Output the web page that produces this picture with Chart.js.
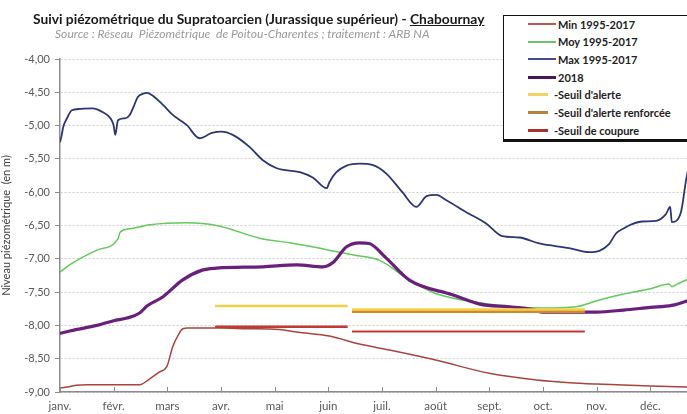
<!DOCTYPE html>
<html lang="fr">
<head>
<meta charset="utf-8">
<title>Suivi piézométrique - Chabournay</title>
<script src="https://cdn.jsdelivr.net/npm/chart.js@4/dist/chart.umd.min.js"></script>
<style>
  html, body { margin: 0; padding: 0; background: #fff; overflow: hidden; width: 687px; height: 414px; }
  body { position: relative; font-family: Lato, "Open Sans", sans-serif; }
  #wrap { position: absolute; left: 0; top: 0; width: 720px; height: 414px; }
  #title { position: absolute; left: 33px; top: 10px; font-size: 13.8px; font-weight: 700; color: #1a1a1a; white-space: nowrap; }
  #sub { position: absolute; left: 55px; top: 26px; font-size: 12.1px; font-style: italic; color: #9a9a9a; white-space: pre; }
  #legend { position: absolute; left: 503px; top: 15px; width: 200px; height: 127px; background: #fff;
            border: 1px solid #111; border-bottom: 3px solid #111; box-sizing: border-box; }
  .lg-row { position: absolute; left: 0; height: 16px; display: flex; align-items: center; font-size: 11px; font-weight: 700; color: #222; white-space: nowrap; }
  .lg-line { display: inline-block; margin-left: 24px; margin-right: 2px; }
</style>
</head>
<body>
<div id="wrap"><canvas id="cv" width="720" height="414"></canvas></div>
<div id="title">Suivi piézométrique du Supratoarcien (Jurassique supérieur) - <u>Chabournay</u></div>
<div id="sub">Source : Réseau  Piézométrique  de Poitou-Charentes ; traitement : ARB NA</div>
<div id="legend"></div>

<script>
// mois (axe x en mois, 0 = 1er janvier)
const MONTHS = ['janv.', 'févr.', 'mars', 'avr.', 'mai', 'juin', 'juil.', 'août', 'sept.', 'oct.', 'nov.', 'déc.'];
const Y_TICKS = [-9, -8.5, -8, -7.5, -7, -6.5, -6, -5.5, -5, -4.5, -4];

// Min 1995-2017
const minX = [0, 0.1, 0.3, 0.5, 1.0, 1.49, 1.64, 1.85, 1.99, 2.1, 2.2, 2.29, 2.38, 3.0, 3.5, 4.09, 4.41, 5.02, 5.58, 6.14, 7.0, 8.0, 8.88, 9.5, 10.0, 11.0, 12.0];
const minY = [-8.94, -8.93, -8.9, -8.89, -8.89, -8.89, -8.82, -8.7, -8.62, -8.32, -8.15, -8.05, -8.04, -8.04, -8.05, -8.06, -8.1, -8.16, -8.28, -8.37, -8.52, -8.72, -8.82, -8.86, -8.88, -8.91, -8.93];

// Moy 1995-2017
const moyX = [0, 0.2, 0.69, 1.08, 1.12, 1.3, 1.68, 2.36, 2.92, 3.72, 4.28, 5.02, 5.45, 5.95, 6.51, 7.0, 7.82, 8.43, 9.0, 9.62, 10.0, 10.5, 11.0, 11.35, 11.4, 11.5, 11.8];
const moyY = [-7.2, -7.08, -6.87, -6.7, -6.6, -6.55, -6.49, -6.46, -6.5, -6.69, -6.76, -6.87, -6.94, -7.02, -7.32, -7.52, -7.66, -7.72, -7.74, -7.72, -7.63, -7.53, -7.45, -7.38, -7.42, -7.38, -7.27];

// Max 1995-2017
const maxX = [0, 0.03, 0.06, 0.13, 0.22, 0.37, 0.61, 0.8, 0.95, 1.0, 1.03, 1.08, 1.21, 1.3, 1.38, 1.45, 1.55, 1.62, 1.71, 1.92, 2.1, 2.36, 2.6, 2.83, 3.01, 3.22, 3.53, 3.78, 4.04, 4.47, 4.71, 4.97, 5.02, 5.15, 5.34, 5.58, 5.82, 6.08, 6.38, 6.64, 6.83, 7.01, 7.2, 7.57, 7.94, 8.24, 8.56, 8.93, 9.49, 9.86, 10.05, 10.23, 10.36, 10.51, 10.66, 10.85, 11.11, 11.29, 11.37, 11.4, 11.57, 11.67, 11.75];
const maxY = [-5.25, -5.15, -5.02, -4.89, -4.77, -4.75, -4.74, -4.8, -4.9, -5.0, -5.14, -4.92, -4.89, -4.84, -4.7, -4.57, -4.52, -4.51, -4.54, -4.69, -4.84, -4.99, -5.19, -5.11, -5.09, -5.14, -5.32, -5.52, -5.64, -5.7, -5.78, -5.94, -5.85, -5.7, -5.6, -5.57, -5.59, -5.72, -6.0, -6.22, -6.06, -6.04, -6.12, -6.3, -6.47, -6.66, -6.68, -6.77, -6.84, -6.9, -6.88, -6.78, -6.62, -6.54, -6.48, -6.44, -6.43, -6.33, -6.22, -6.45, -6.3, -5.8, -5.5];

// 2018
const y2018X = [0, 0.2, 0.69, 1.0, 1.25, 1.49, 1.62, 1.92, 2.28, 2.65, 2.92, 3.78, 4.41, 4.9, 5.08, 5.34, 5.58, 5.76, 6.08, 6.51, 7.31, 7.82, 8.37, 8.8, 9.0, 9.8, 10.0, 10.5, 11.0, 11.4, 11.8];
const y2018Y = [-8.12, -8.08, -8.0, -7.93, -7.89, -7.81, -7.71, -7.57, -7.32, -7.17, -7.14, -7.12, -7.09, -7.12, -7.06, -6.82, -6.76, -6.77, -6.99, -7.32, -7.54, -7.68, -7.72, -7.76, -7.8, -7.8, -7.8, -7.77, -7.73, -7.7, -7.6];

// seuils (deux périodes)
const periode1 = [2.89, 5.36];
const periode2 = [5.44, 9.78];
const alerte1 = -7.71, alerte2 = -7.76;
const renforcee2 = -7.79;
const coupure1 = -8.02, coupure2 = -8.09;

const pts = (xs, ys) => xs.map((x, i) => ({ x, y: ys[i] }));
const seg = (xs, v) => xs.map(x => ({ x, y: v }));

const C = {
  min: '#a9443d', moy: '#62c95a', max: '#2c3677', y2018: '#6a1f7c',
  alerte: '#f4cf4a', renf: '#d18a2a', coup: '#bf3a32',
};

function line(label, data, color, width, order, legend) {
  return { label, data, borderColor: color, backgroundColor: color, borderWidth: width, pointRadius: 0,
           cubicInterpolationMode: 'monotone', order, fill: false, legend };
}

const datasets = [
  line('Min 1995-2017', pts(minX, minY), C.min, 1.5, 5, { color: '#c05550', w: 2 }),
  line('Moy 1995-2017', pts(moyX, moyY), C.moy, 1.5, 4, { color: '#6cc46c', w: 2 }),
  line('Max 1995-2017', pts(maxX, maxY), C.max, 1.8, 3, { color: '#454c86', w: 2 }),
  line('2018', pts(y2018X, y2018Y), C.y2018, 3.2, 2, { color: '#4a1656', w: 3 }),
  line('-Seuil d\'alerte', seg(periode1, alerte1), C.alerte, 2.5, 0, { color: '#f2d262', w: 3, short: true }),
  line('-Seuil d\'alerte', seg(periode2, alerte2), C.alerte, 2.5, 0),
  line('-Seuil d\'alerte renforcée', seg(periode2, renforcee2), C.renf, 3, 1, { color: '#b7803f', w: 3, short: true }),
  line('-Seuil de coupure', seg(periode1, coupure1), C.coup, 2.5, 0, { color: '#a8322e', w: 3, short: true }),
  line('-Seuil de coupure', seg(periode2, coupure2), C.coup, 2, 0),
];

const xTickMarks = {
  id: 'xTickMarks',
  afterDraw(chart) {
    const s = chart.scales.x, ctx = chart.ctx;
    ctx.save();
    ctx.strokeStyle = '#8c8c8c'; ctx.lineWidth = 1;
    s.ticks.forEach(t => {
      const px = Math.round(s.getPixelForValue(t.value)) + 0.5;
      ctx.beginPath(); ctx.moveTo(px, s.top); ctx.lineTo(px, s.top - 5); ctx.stroke();
    });
    ctx.restore();
  }
};

const chart = new Chart(document.getElementById('cv'), {
  type: 'line',
  data: { datasets },
  options: {
    responsive: false, animation: false, devicePixelRatio: 1,
    layout: { padding: { top: 59, right: 16, bottom: 0, left: 0 } },
    plugins: { legend: { display: false }, tooltip: { enabled: false } },
    scales: {
      x: {
        type: 'linear', min: 0, max: 12,
        afterFit: s => { s.height = 22; },
        afterBuildTicks: s => { s.ticks = MONTHS.map((m, i) => ({ value: i })); },
        grid: { display: false, drawTicks: false },
        border: { color: '#8c8c8c', width: 1.5 },
        ticks: { autoSkip: false, maxRotation: 0, padding: 7, color: '#595959',
                 font: { family: 'Lato', size: 11.5 }, callback: v => MONTHS[v] ?? '' },
      },
      y: {
        min: -9, max: -4,
        afterFit: s => { s.width = 60; },
        afterBuildTicks: s => { s.ticks = Y_TICKS.map(v => ({ value: v })); },
        grid: { color: '#cfcfcf', lineWidth: 1, tickLength: 5, tickColor: '#8c8c8c' },
        border: { color: '#8c8c8c', width: 1.5, dash: [2, 2] },
        ticks: { padding: 5, color: '#595959', font: { family: 'Lato', size: 11 },
                 callback: v => v.toFixed(2).replace('.', ',') },
        title: { display: true, text: 'Niveau piézométrique  (en m)', color: '#404040',
                 font: { family: 'Lato', size: 11 }, padding: { top: 0, bottom: 2 } },
      },
    },
  },
  plugins: [xTickMarks],
});

// légende en encadré (construite depuis les jeux de données)
const lg = document.getElementById('legend');
chart.data.datasets.filter(d => d.legend).forEach((d, i) => {
  const row = document.createElement('div');
  row.className = 'lg-row';
  row.style.top = (0 + i * 17.7) + 'px';
  const sw = document.createElement('span');
  sw.className = 'lg-line';
  sw.style.width = (d.legend.short ? 20 : 28) + 'px';
  sw.style.height = d.legend.w + 'px';
  sw.style.background = d.legend.color;
  if (d.legend.short) sw.style.marginRight = '6px';
  row.appendChild(sw);
  row.appendChild(document.createTextNode(d.label));
  lg.appendChild(row);
});
</script>
</body>
</html>
